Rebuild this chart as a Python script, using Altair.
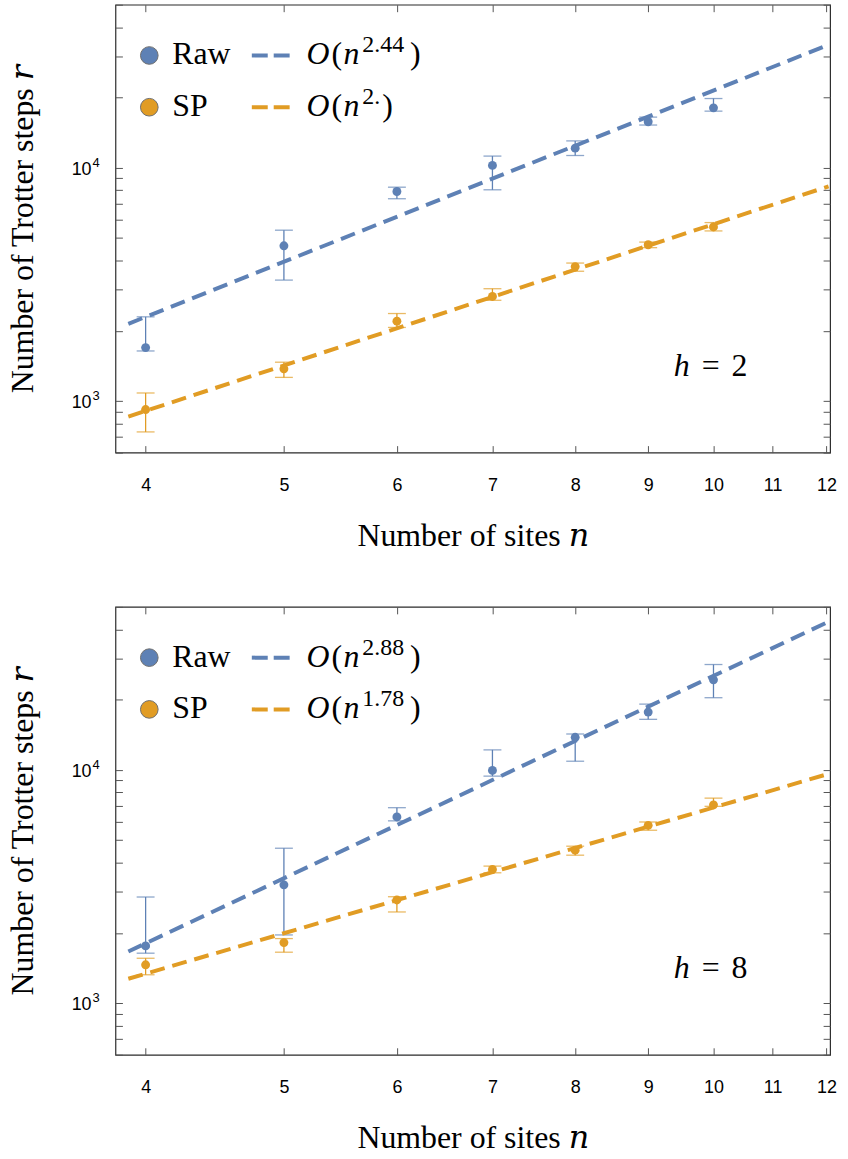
import altair as alt
import pandas as pd

# ---------------- data ----------------
n_sites = [4, 5, 6, 7, 8, 9, 10]
series_names = ["Raw", "SP"]
series_colors = ["#5E81B5", "#E19C24"]

# h = 2
raw_h2 = [1692, 4625, 7905, 10230, 12130, 15740, 18060]
raw_h2_lo = [1637, 3296, 7360, 8040, 11280, 15240, 17480]
raw_h2_hi = [2293, 5395, 8249, 11215, 13030, 16480, 19800]
sp_h2 = [918, 1373, 2196, 2805, 3766, 4672, 5570]
sp_h2_lo = [736, 1261, 2065, 2700, 3597, 4540, 5356]
sp_h2_hi = [1081, 1465, 2369, 3027, 3900, 4797, 5816]

# h = 8
raw_h8 = [1758, 3213, 6281, 9940, 13795, 17700, 24320]
raw_h8_lo = [1636, 1959, 6044, 9400, 10890, 16470, 20390]
raw_h8_hi = [2849, 4612, 6883, 12180, 14250, 19140, 28300]
sp_h8 = [1459, 1816, 2767, 3741, 4524, 5781, 7080]
sp_h8_lo = [1322, 1652, 2458, 3619, 4306, 5509, 6976]
sp_h8_hi = [1556, 1890, 2857, 3866, 4706, 5977, 7564]

# fitted power-law lines (end points)
fit_n = [3.89, 12.04]
fit_raw_h2 = [2141, 33690]
fit_sp_h2 = [856, 8318]
fit_raw_h8 = [1663, 43200]
fit_sp_h8 = [1271, 9613]

exponents_h2 = ["2.44", "2."]
exponents_h8 = ["2.88", "1.78"]
h_values = ["2", "8"]

x_ticks = [4, 5, 6, 7, 8, 9, 10, 11, 12]
y_ticks = [600, 700, 800, 900, 1000, 2000, 3000, 4000, 5000, 6000, 7000,
           8000, 9000, 10000, 20000, 30000, 40000, 50000]
y_label_values = [1000, 10000]
y_label_base = "10"
y_label_exps = ["3", "4"]
X_DOMAIN = [3.81, 12.07]
Y_DOMAIN = [600, 50000]

x_title = "Number of sites 𝑛"
y_title = "Number of Trotter steps 𝑟"

# ---------------- style ----------------
W, H = 718, 450
SERIF = "Liberation Serif, DejaVu Serif, Times New Roman, serif"
SANS = "Liberation Sans, Arial, Helvetica, sans-serif"
TICK = 7
TICK_COLOR = "#555555"


def blank():
    return alt.Chart(alt.Data(values=[{}]))


def text_mark(s, x, y, size=32, style="normal"):
    return blank().mark_text(
        align="left", baseline="alphabetic", font=SERIF, fontSize=size,
        fontStyle=style, color="black"
    ).encode(x=alt.value(x), y=alt.value(y), text=alt.value(s))


def panel(raw, raw_lo, raw_hi, sp, sp_lo, sp_hi, fit_raw, fit_sp, exps, hval):
    pts = pd.DataFrame({
        "n": n_sites * 2,
        "series": ["Raw"] * len(n_sites) + ["SP"] * len(n_sites),
        "r": raw + sp,
        "lo": raw_lo + sp_lo,
        "hi": raw_hi + sp_hi,
    })
    fit = pd.DataFrame({
        "n": fit_n * 2,
        "series": ["Raw"] * 2 + ["SP"] * 2,
        "r": fit_raw + fit_sp,
    })
    ylab = pd.DataFrame({"v": y_label_values, "e": y_label_exps})
    xs = alt.Scale(type="log", domain=X_DOMAIN, nice=False)
    ys = alt.Scale(type="log", domain=Y_DOMAIN, nice=False)
    col = alt.Color("series:N", scale=alt.Scale(domain=series_names, range=series_colors), legend=None)

    x_axis = alt.Axis(
        values=x_ticks, format="d", orient="bottom", offset=-TICK, tickSize=TICK,
        tickColor=TICK_COLOR, domain=False, grid=False, labelFont=SANS,
        labelFontSize=18, labelColor="black", labelPadding=24, labelOverlap=False,
        labelFlush=False, title=x_title, titleFont=SERIF, titleFontSize=32,
        titleFontWeight="normal", titleColor="black", titlePadding=26,
    )
    y_axis = alt.Axis(
        values=y_ticks, orient="left", offset=-TICK, tickSize=TICK,
        tickColor=TICK_COLOR, domain=False, grid=False, labels=False,
        title=y_title, titleFont=SERIF, titleFontSize=32, titleFontWeight="normal",
        titleColor="black", titlePadding=76,
    )
    x_top = alt.Axis(values=x_ticks, orient="top", offset=-TICK, tickSize=TICK,
                     tickColor=TICK_COLOR, domain=False, grid=False, labels=False, title=None)
    y_right = alt.Axis(values=y_ticks, orient="right", offset=-TICK, tickSize=TICK,
                       tickColor=TICK_COLOR, domain=False, grid=False, labels=False, title=None)

    base = alt.Chart(pts)
    bars = base.mark_rule(strokeWidth=1.3).encode(
        x=alt.X("n:Q", scale=xs, axis=None),
        y=alt.Y("lo:Q", scale=ys, axis=None),
        y2="hi:Q", color=col)
    cap_lo = base.mark_tick(orient="horizontal", size=18, thickness=1.3).encode(
        x=alt.X("n:Q", scale=xs, axis=None),
        y=alt.Y("lo:Q", scale=ys, axis=None), color=col)
    cap_hi = base.mark_tick(orient="horizontal", size=18, thickness=1.3).encode(
        x=alt.X("n:Q", scale=xs, axis=None),
        y=alt.Y("hi:Q", scale=ys, axis=None), color=col)
    points = base.mark_circle(size=80, opacity=1).encode(
        x=alt.X("n:Q", scale=xs, axis=x_axis),
        y=alt.Y("r:Q", scale=ys, axis=y_axis), color=col)
    lines = alt.Chart(fit).mark_line(strokeWidth=4, strokeDash=[15, 8]).encode(
        x=alt.X("n:Q", scale=xs, axis=x_top),
        y=alt.Y("r:Q", scale=ys, axis=y_right),
        color=col, detail="series:N")

    # y tick labels 10^k with real superscripts
    ylab_base = alt.Chart(ylab).mark_text(
        align="right", baseline="middle", font=SANS, fontSize=18, color="black", dy=2
    ).encode(x=alt.value(-24), y=alt.Y("v:Q", scale=ys, axis=None), text=alt.value(y_label_base))
    ylab_exp = alt.Chart(ylab).mark_text(
        align="left", baseline="alphabetic", font=SANS, fontSize=13, color="black", dy=-1
    ).encode(x=alt.value(-23), y=alt.Y("v:Q", scale=ys, axis=None), text="e:N")

    layers = [bars, cap_lo, cap_hi, points, lines, ylab_base, ylab_exp]

    # hand-made legend
    rows = [51, 103]
    for i, name in enumerate(series_names):
        yc = rows[i]
        yb = yc + 9
        layers.append(blank().mark_circle(size=314, color=series_colors[i], opacity=1,
                                          stroke="#6f6f6f", strokeWidth=1).encode(
            x=alt.value(34), y=alt.value(yc)))
        layers.append(text_mark(name, 57, yb))
        layers.append(blank().mark_rule(strokeDash=[16, 6], strokeWidth=4,
                                        color=series_colors[i]).encode(
            x=alt.value(137), x2=alt.value(176), y=alt.value(yc)))
        layers.append(text_mark("O", 192, yb, style="italic"))
        layers.append(text_mark("(", 217, yb))
        layers.append(text_mark("n", 229, yb, style="italic"))
        layers.append(text_mark(exps[i], 248, yb - 12, size=24))
        close_x = 296 if len(exps[i]) > 2 else 268
        layers.append(text_mark(")", close_x, yb))

    # h annotation
    layers.append(text_mark("h", 561, 373, style="italic"))
    layers.append(text_mark("=", 589, 373))
    layers.append(text_mark(hval, 619, 373))

    return alt.layer(*layers).resolve_axis(x="independent", y="independent").properties(
        width=W, height=H)


top = panel(raw_h2, raw_h2_lo, raw_h2_hi, sp_h2, sp_h2_lo, sp_h2_hi,
            fit_raw_h2, fit_sp_h2, exponents_h2, h_values[0])
bottom = panel(raw_h8, raw_h8_lo, raw_h8_hi, sp_h8, sp_h8_lo, sp_h8_hi,
               fit_raw_h8, fit_sp_h8, exponents_h8, h_values[1])

chart = alt.vconcat(top, bottom, spacing=53).properties(
    padding={"left": 5, "top": 0, "right": 10, "bottom": 5},
    background="white",
).configure_view(stroke="#2b2b2b", strokeWidth=1.2)

chart.save("out.html", embed_options={"renderer": "svg", "actions": False})
